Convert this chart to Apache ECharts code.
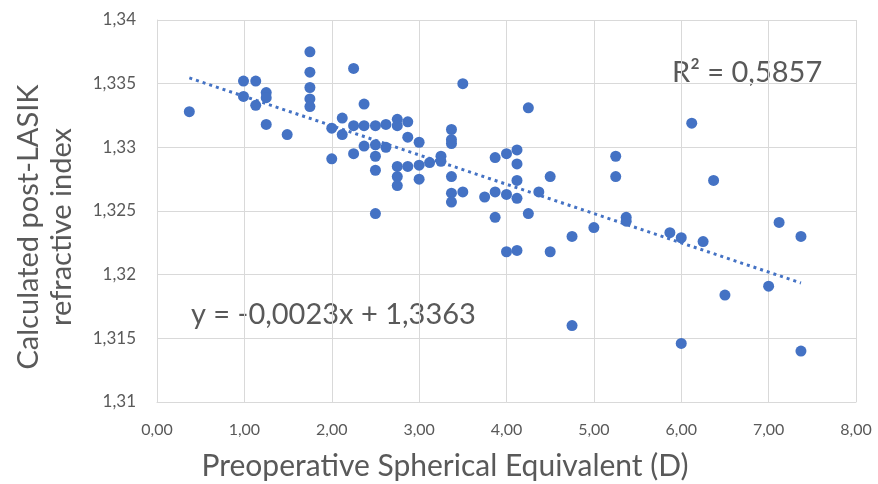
<!DOCTYPE html>
<html>
<head>
<meta charset="utf-8">
<script src="https://cdn.jsdelivr.net/npm/echarts@6/dist/echarts.min.js"></script>
<style>html,body{margin:0;padding:0;background:#fff}#c{width:878px;height:484px}</style>
</head>
<body>
<div id="c"></div>
<script>
const xValues = [0.37,0.99,1.13,0.99,1.25,1.25,1.13,1.25,1.49,1.75,1.75,1.75,1.75,1.75,2.25,2.37,2.00,2.12,2.12,2.25,2.37,2.50,2.62,2.37,2.50,2.62,2.25,2.50,2.00,2.50,2.50,3.50,4.25,2.75,2.75,2.87,2.87,3.00,3.37,3.37,3.37,2.75,2.75,2.75,2.87,3.00,3.00,3.12,3.25,3.25,3.37,3.37,3.50,3.87,4.00,4.12,4.12,4.12,4.50,3.75,3.87,4.00,4.12,4.37,3.37,3.87,4.25,4.00,4.12,4.50,4.75,5.00,5.37,5.37,4.75,6.12,6.37,5.25,5.25,5.87,6.00,6.25,7.12,7.37,6.50,7.00,6.00,7.37];
const yValues = [1.3328,1.3352,1.3352,1.3340,1.3343,1.3339,1.3333,1.3318,1.3310,1.3375,1.3359,1.3347,1.3338,1.3332,1.3362,1.3334,1.3315,1.3323,1.3310,1.3317,1.3317,1.3317,1.3318,1.3301,1.3302,1.3300,1.3295,1.3293,1.3291,1.3282,1.3248,1.3350,1.3331,1.3322,1.3317,1.3320,1.3308,1.3304,1.3314,1.3306,1.3303,1.3285,1.3277,1.3270,1.3285,1.3286,1.3275,1.3288,1.3293,1.3289,1.3277,1.3264,1.3265,1.3292,1.3295,1.3298,1.3287,1.3274,1.3277,1.3261,1.3265,1.3263,1.3260,1.3265,1.3257,1.3245,1.3248,1.3218,1.3219,1.3218,1.3230,1.3237,1.3245,1.3242,1.3160,1.3319,1.3274,1.3293,1.3277,1.3233,1.3229,1.3226,1.3241,1.3230,1.3184,1.3191,1.3146,1.3140];
const trendSlope = -0.0023;
const trendIntercept = 1.3363;
const rSquaredText = 'R² = 0,5857';
const equationText = 'y = -0,0023x + 1,3363';
const xTitle = 'Preoperative Spherical Equivalent (D)';
const yTitleLines = ['Calculated post-LASIK', 'refractive index'];

const points = xValues.map((x, i) => [x, yValues[i]]);
const xMin = Math.min(...xValues), xMax = Math.max(...xValues);
const trend = [[xMin, trendSlope * xMin + trendIntercept], [xMax, trendSlope * xMax + trendIntercept]];

const txt = '#595959';
const font = 'Lato, "Open Sans", sans-serif';
const chart = echarts.init(document.getElementById('c'));
chart.setOption({
  animation: false,
  grid: {left: 157, top: 20, right: 22, bottom: 82},
  xAxis: {
    type: 'value', min: 0, max: 8, interval: 1,
    axisLine: {show: true, lineStyle: {color: '#d9d9d9'}},
    axisTick: {show: false},
    splitLine: {show: true, lineStyle: {color: '#d9d9d9', width: 1}},
    axisLabel: {color: txt, fontFamily: font, fontSize: 16, margin: 20,
      formatter: v => v.toFixed(2).replace('.', ',')}
  },
  yAxis: {
    type: 'value', min: 1.31, max: 1.34, interval: 0.005,
    axisLine: {show: true, lineStyle: {color: '#d9d9d9'}},
    axisTick: {show: false},
    splitLine: {show: true, lineStyle: {color: '#d9d9d9', width: 1}},
    axisLabel: {color: txt, fontFamily: font, fontSize: 17, margin: 21,
      formatter: v => String(Number(v.toFixed(4))).replace('.', ',')}
  },
  series: [
    {type: 'scatter', data: points, symbolSize: 11, itemStyle: {color: '#4472C4', opacity: 1}, z: 3},
    {type: 'line', data: trend, symbol: 'none', lineStyle: {color: '#4472C4', width: 3, type: [3, 4]}, z: 2}
  ],
  graphic: [
    {type: 'text', x: 672, y: 73, style: {text: rSquaredText, fill: txt, font: '29px ' + font, verticalAlign: 'middle'}},
    {type: 'text', x: 191, y: 315, style: {text: equationText, fill: txt, font: '29px ' + font, verticalAlign: 'middle'}},
    {type: 'text', x: 445, y: 466, style: {text: xTitle, fill: txt, font: '30px ' + font, align: 'center', verticalAlign: 'middle'}},
    {type: 'text', x: 29, y: 227, rotation: Math.PI / 2, style: {text: yTitleLines[0], fill: txt, font: '29px ' + font, align: 'center', verticalAlign: 'middle'}},
    {type: 'text', x: 62, y: 227, rotation: Math.PI / 2, style: {text: yTitleLines[1], fill: txt, font: '29px ' + font, align: 'center', verticalAlign: 'middle'}}
  ]
});
</script>
</body>
</html>
